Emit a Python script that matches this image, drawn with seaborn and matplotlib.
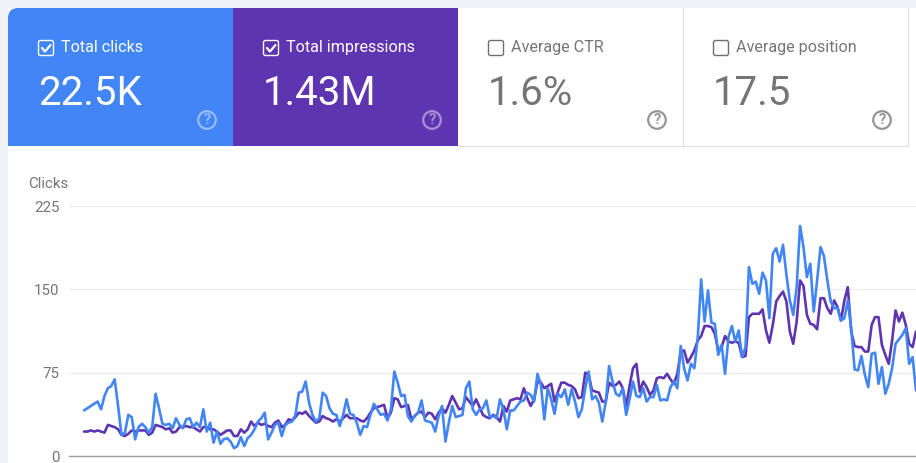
import matplotlib
matplotlib.use("Agg")
import matplotlib.pyplot as plt
from matplotlib.patches import Rectangle, FancyBboxPatch, Circle
import numpy as np
import pandas as pd
import seaborn as sns

card_labels = ["Total clicks", "Total impressions", "Average CTR", "Average position"]
card_values = ["22.5K", "1.43M", "1.6%", "17.5"]
card_checked = [True, True, False, False]
y_ticks = [0, 75, 150, 225]

clicks = [
    41, 43, 45, 47, 49, 42, 54, 61, 63, 69,
    45, 19, 21, 37, 35, 15, 26, 29, 26, 21,
    26, 56, 43, 29, 28, 29, 25, 34, 28, 25,
    33, 34, 26, 30, 26, 42, 22, 30, 12, 22,
    11, 15, 16, 13, 7, 9, 17, 9, 16, 19,
    24, 31, 34, 39, 15, 21, 28, 30, 18, 28,
    30, 31, 37, 57, 58, 67, 48, 37, 31, 34,
    57, 54, 43, 38, 37, 27, 37, 51, 38, 37,
    30, 19,
    27, 26, 37, 47, 42, 37, 38, 32, 42, 76,
    66, 54, 55, 36, 31, 36, 39, 50, 32, 31,
    30, 22, 36, 45, 13, 30, 45, 35, 36, 37,
    61, 67, 42, 37, 42, 43, 50, 35, 36, 34,
    51, 42, 24, 41, 41, 45, 49, 50, 57, 55,
    49, 74, 64, 33, 61, 51, 38, 56, 53, 60,
    46, 60, 49, 35, 42, 61, 76, 51, 54, 48,
    31, 48, 81, 67, 56, 54, 61, 37, 51, 67,
    54, 53,
    61, 49, 53, 53, 64, 50, 51, 50, 62, 67,
    61, 99, 79, 68, 83, 79, 107, 159, 121, 149,
    120, 119, 91, 100, 74, 107, 117, 103, 113, 89,
    98, 170, 155, 157, 146, 165, 158, 124, 182, 187,
    175, 190, 163, 140, 127, 152, 207, 188, 161, 173,
    130, 158, 188, 180, 158, 139, 133, 133, 122, 124,
    140, 115, 78, 77, 90, 73, 62, 92, 93, 65,
    80, 56, 65, 79, 101, 105, 109, 115, 83, 89,
    59,
]

impressions = [
    22, 22, 23, 22, 23, 22, 21, 28, 27, 26,
    24, 19, 18, 20, 23, 22, 23, 23, 23, 19,
    21, 28, 27, 26, 24, 25, 21, 22, 26, 26,
    27, 26, 26, 24, 22, 26, 26, 24, 24, 22,
    19, 21, 23, 23, 18, 18, 24, 21, 24, 31,
    27, 30, 28, 29, 27, 26, 30, 32, 26, 28,
    33, 32, 35, 39, 38, 40, 36, 33, 30, 31,
    36, 34, 33, 31, 33, 31, 34, 37, 34, 34,
    34, 32,
    31, 34, 39, 43, 44, 45, 46, 34, 39, 52,
    51, 44, 45, 46, 33, 36, 39, 40, 35, 39,
    38, 33, 39, 43, 39, 46, 54, 48, 42, 43,
    53, 49, 45, 51, 44, 37, 35, 34, 37, 35,
    31, 45, 40, 50, 51, 52, 51, 61, 52, 45,
    51, 67, 66, 61, 63, 65, 49, 58, 66, 66,
    64, 63, 60, 52, 53, 75, 73, 59, 58, 57,
    49, 49, 66, 63, 64, 67, 61, 45, 63, 79,
    83, 58,
    67, 62, 55, 59, 70, 71, 70, 74, 69, 65,
    74, 94, 95, 84, 89, 95, 104, 108, 117, 117,
    116, 110, 95, 98, 108, 103, 102, 103, 102, 89,
    90, 125, 128, 128, 128, 132, 113, 102, 118, 139,
    144, 148, 139, 112, 101, 121, 158, 153, 127, 119,
    118, 114, 142, 142, 133, 128, 140, 134, 122, 140,
    152, 112, 99, 98, 98, 94, 94, 118, 125, 125,
    100, 91, 83, 104, 131, 121, 129, 118, 101, 98,
    112,
]

BLUE = "#4285F4"
PURPLE = "#5E35B1"
GREY = "#757575"
W, H = 916, 463

sns.set_theme(style="white")
plt.rcParams["font.family"] = ["Roboto", "DejaVu Sans"]

fig = plt.figure(figsize=(W / 100, H / 100), dpi=100, facecolor="white")

# page layer, drawn in pixel coordinates
bg = fig.add_axes([0, 0, 1, 1])
bg.set_xlim(0, W)
bg.set_ylim(H, 0)
bg.axis("off")

bg.add_patch(Rectangle((0, 0), W, 8, color="#EFF3F8", lw=0))
bg.add_patch(Rectangle((0, 0), 8, H, color="#EFF3F8", lw=0))

card_w = 225
card_colors = [BLUE, PURPLE, "white", "white"]
for i, label in enumerate(card_labels):
    x0 = 8 + i * card_w
    on = card_checked[i]
    fg = "white" if on else GREY
    if i == 0:
        # only the top left corner is rounded
        bg.add_patch(FancyBboxPatch((x0 + 10, 18), card_w - 20, 118,
                                    boxstyle="round,pad=10,rounding_size=10",
                                    fc=BLUE, ec="none", zorder=1))
        bg.add_patch(Rectangle((x0 + 12, 8), card_w - 12, 138, color=BLUE, lw=0, zorder=1.1))
        bg.add_patch(Rectangle((x0, 20), card_w, 126, color=BLUE, lw=0, zorder=1.1))
    else:
        bg.add_patch(Rectangle((x0, 8), card_w, 138, color=card_colors[i], lw=0, zorder=1.2))
    box_ec = "white" if on else "#6f6f6f"
    bg.add_patch(FancyBboxPatch((x0 + 31.5, 41.5), 13, 13, boxstyle="round,pad=1,rounding_size=2",
                                fc="none", ec=box_ec, lw=1.0, zorder=3))
    if on:
        bg.plot([x0 + 34, x0 + 37, x0 + 42.5], [48, 51.5, 45], color="white", lw=1.6, zorder=4)
    bg.text(x0 + 53, 47.5, label, color=fg, fontsize=11.6, va="center", ha="left", zorder=4)
    bg.text(x0 + 30, 93.5, card_values[i], color=fg, fontsize=29, va="center", ha="left", zorder=4)
    help_color = "white" if on else "#8a8a8a"
    help_alpha = 0.45 if on else 0.9
    bg.add_patch(Circle((x0 + 199, 120), 8.8, fc="none", ec=help_color, lw=1.6, alpha=help_alpha, zorder=4))
    bg.text(x0 + 199, 120.3, "?", color=help_color, alpha=help_alpha, fontsize=10.5,
            fontweight="bold", va="center", ha="center", zorder=4)

bg.plot([458, 908, 908], [146, 146, 8], color="#E0E0E0", lw=0.9, zorder=3)
bg.plot([683, 683], [8, 146], color="#E0E0E0", lw=0.9, zorder=3)

bg.text(28, 184.5, "Clicks", color=GREY, fontsize=10.8, va="center", ha="left")

# chart layer
ax_left, ax_top, ax_bottom = 69, 206, 456
ax = fig.add_axes([ax_left / W, (H - ax_bottom) / H, (W - ax_left) / W, (ax_bottom - ax_top) / H])
ax.patch.set_alpha(0)

days = np.arange(len(clicks))
df = pd.DataFrame({"day": days, "clicks": clicks, "impressions": impressions})
long_df = df.melt(id_vars="day", var_name="metric", value_name="value")

sns.lineplot(data=long_df, x="day", y="value", hue="metric",
             hue_order=["impressions", "clicks"],
             palette={"clicks": BLUE, "impressions": PURPLE},
             linewidth=1.9, legend=False, ax=ax)

step = (916 - 84) / (len(clicks) - 1)
ax.set_xlim(-(84 - ax_left) / step, len(clicks) - 1)
ax.set_ylim(0, 225)
ax.set_xlabel("")
ax.set_ylabel("")
ax.set_xticks([])
ax.set_yticks(y_ticks)
ax.tick_params(axis="y", length=0, pad=7, labelsize=10.8, labelcolor=GREY)
ax.grid(axis="y", color="#ECECEC", lw=0.9)
ax.set_axisbelow(True)
sns.despine(ax=ax, left=True, top=True, right=True)
ax.spines["bottom"].set_color("#9E9E9E")
ax.spines["bottom"].set_linewidth(1.0)

fig.savefig("out.png", dpi=100, facecolor=fig.get_facecolor())
plt.close(fig)
